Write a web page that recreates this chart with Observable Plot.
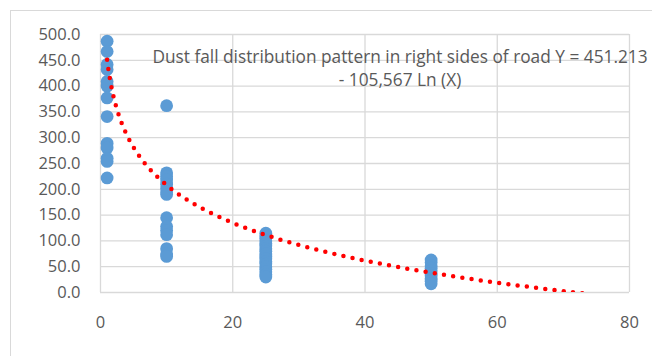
<!DOCTYPE html>
<html>
<head>
<meta charset="utf-8">
<script src="https://cdn.jsdelivr.net/npm/d3@7"></script>
<script src="https://cdn.jsdelivr.net/npm/@observablehq/plot@0.6"></script>
<style>
  html, body { margin: 0; padding: 0; background: #fff; overflow: hidden; }
  #wrap { position: relative; width: 652px; height: 356px; overflow: hidden; }
  #border { position: absolute; left: 10px; top: 10px; width: 700px; height: 400px; border: 1.5px solid #d9d9d9; box-sizing: border-box; }
  #title { position: absolute; left: 100px; width: 600px; top: 45px; text-align: center; font-family: "Open Sans", sans-serif; font-size: 17.3px; line-height: 23px; color: #595959; white-space: nowrap; }
  svg { position: absolute; left: 0; top: 0; }
</style>
</head>
<body>
<div id="wrap">
  <div id="border"></div>
  <div id="chart"></div>
  <div id="title">Dust fall distribution pattern in right sides of road Y = 451.213<br>- 105,567 Ln (X)</div>
</div>
<script>
// Data
const distances = [1, 10, 25, 50];
const dustAt1 = [487, 467, 442, 432, 409, 400, 377, 341, 289, 280, 260, 254, 222];
const dustAt10 = [362, 232, 225, 218, 210, 202, 195, 190, 145, 128, 120, 112, 85, 75, 70];
const dustAt25 = [115, 110, 105, 100, 95, 90, 85, 80, 75, 70, 65, 60, 55, 50, 45, 40, 35, 30];
const dustAt50 = [63, 58, 52, 47, 42, 37, 32, 27, 22, 17];
const xTicks = [0, 20, 40, 60, 80];
const yTicks = [0, 50, 100, 150, 200, 250, 300, 350, 400, 450, 500];
// Trendline stated in chart: Y = 451.213 - 105.567 ln(X), from X=1 to X=75
const trendA = 451.213, trendB = 105.567;
const trendStart = 1, trendEnd = 75;

const groups = [dustAt1, dustAt10, dustAt25, dustAt50];
const points = groups.flatMap((vals, i) => vals.map(v => ({x: distances[i], y: v})));
const trend = d3.range(trendStart, trendEnd + 0.001, 0.1).map(x => ({x, y: trendA - trendB * Math.log(x)}));

const chart = Plot.plot({
  width: 652,
  height: 356,
  marginLeft: 100,
  marginRight: 23,
  marginTop: 34,
  marginBottom: 64,
  style: {fontFamily: "Open Sans, sans-serif", fontSize: "16.5px", color: "#595959", background: "transparent"},
  x: {domain: [0, 80], ticks: xTicks, tickSize: 0, tickPadding: 24, label: null, tickFormat: d => String(d)},
  y: {domain: [0, 500], ticks: yTicks, tickSize: 0, tickPadding: 20, label: null, tickFormat: d => d.toFixed(1)},
  marks: [
    Plot.ruleY(yTicks, {stroke: "#d9d9d9", strokeWidth: 1.3}),
    Plot.ruleX(xTicks, {stroke: "#d9d9d9", strokeWidth: 1.3}),
    Plot.dot(points, {x: "x", y: "y", r: 6.4, fill: "#5b9bd5", stroke: null}),
    Plot.line(trend, {x: "x", y: "y", stroke: "#ff0000", strokeWidth: 4.5, strokeDasharray: "0 9.3", strokeLinecap: "round", clip: true})
  ]
});
document.getElementById("chart").appendChild(chart);
</script>
</body>
</html>
